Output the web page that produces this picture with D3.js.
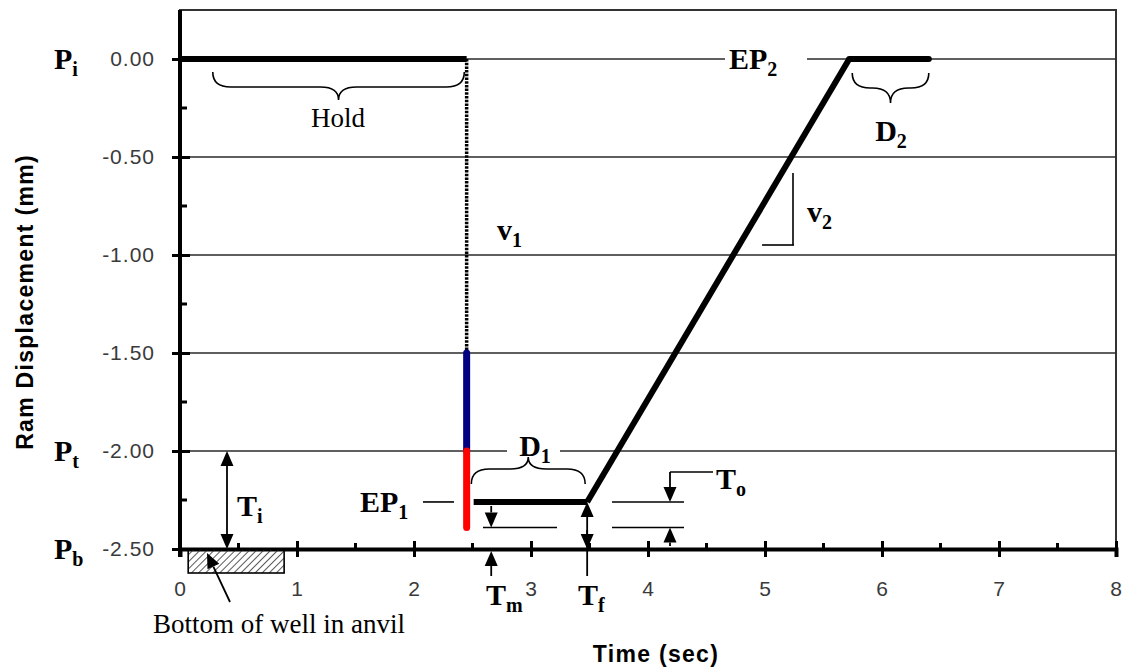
<!DOCTYPE html>
<html>
<head>
<meta charset="utf-8">
<script src="https://cdn.jsdelivr.net/npm/d3@7"></script>
<style>
  body { margin: 0; background: #fff; }
  svg { display: block; }
  .tick text { font-family: "Liberation Sans", Arial, sans-serif; font-size: 21px; fill: #3a3a3a; letter-spacing: 1px; }
  .lab { font-family: "Liberation Serif", "Times New Roman", serif; font-weight: bold; font-size: 30px; fill: #000; }
  .note { font-family: "Liberation Serif", "Times New Roman", serif; font-size: 27px; fill: #000; }
  .title { font-family: "Liberation Sans", Arial, sans-serif; font-weight: bold; font-size: 23px; fill: #000; letter-spacing: 1.3px; }
</style>
</head>
<body>
<svg id="chart" width="1131" height="670"></svg>
<script>
// Ram displacement (mm) against time (s) for one press cycle

const xTicks = [0, 1, 2, 3, 4, 5, 6, 7, 8];
const xMinorTicks = [0.5, 1.5, 2.5, 3.5, 4.5, 5.5, 6.5, 7.5];
const yTicks = [0, -0.5, -1.0, -1.5, -2.0, -2.5];
const yTickLabels = ["0.00", "-0.50", "-1.00", "-1.50", "-2.00", "-2.50"];
const yMinorTicks = [-0.25, -0.75, -1.25, -1.75, -2.25];
const gridLevels = [0, -0.5, -1.0, -1.5, -2.0];

// Cycle segments as [time, displacement]
const holdSeg = [[0, 0], [2.45, 0]];
const dropFast = [[2.45, 0], [2.45, -1.5]];
const dropBlue = [[2.45, -1.5], [2.45, -2.0]];
const dropRed = [[2.45, -2.0], [2.45, -2.39]];
const dwell1 = [[2.51, -2.26], [3.48, -2.26]];
const ramp = [[3.48, -2.26], [5.72, 0]];
const dwell2 = [[5.72, 0], [6.40, 0]];

// Characteristic levels and times
const levelPi = 0, levelPt = -2.0, levelPb = -2.5;
const levelEP1 = -2.26, levelMin = -2.39;
const tEnd1 = 3.48, tEP2 = 5.72, tEnd2 = 6.40;

const svg = d3.select("#chart");
const x = d3.scaleLinear().domain([0, 8]).range([180, 1116]);
const y = d3.scaleLinear().domain([-2.5, 0.25]).range([549, 10]);
const line = d3.line().x(d => x(d[0])).y(d => y(d[1]));

// hatch fill for the well bottom
const defs = svg.append("defs");
const pat = defs.append("pattern").attr("id", "hatch").attr("patternUnits", "userSpaceOnUse")
  .attr("width", 5).attr("height", 5).attr("patternTransform", "rotate(45)");
pat.append("line").attr("x1", 0).attr("y1", 0).attr("x2", 0).attr("y2", 5)
  .attr("stroke", "#222").attr("stroke-width", 1.5);

// plot frame
svg.append("rect").attr("x", x(0)).attr("y", y(0.25))
  .attr("width", x(8) - x(0)).attr("height", y(-2.5) - y(0.25))
  .attr("fill", "none").attr("stroke", "#333").attr("stroke-width", 2);

// horizontal grid
svg.append("g").selectAll("line").data(gridLevels).join("line")
  .attr("x1", x(0)).attr("x2", x(8)).attr("y1", d => y(d)).attr("y2", d => y(d))
  .attr("stroke", "#2a2a2a").attr("stroke-width", 1.7);

// white gaps behind labels sitting on grid lines
svg.append("rect").attr("x", 725).attr("y", 44).attr("width", 82).attr("height", 32).attr("fill", "#fff");
svg.append("rect").attr("x", 507).attr("y", 436).attr("width", 53).attr("height", 28).attr("fill", "#fff");

// axes
const xAxis = svg.append("g").attr("transform", `translate(0,${y(-2.5)})`)
  .call(d3.axisBottom(x).tickValues(xTicks).tickFormat(d3.format("d")).tickSize(8).tickPadding(24));
xAxis.select(".domain").attr("stroke", "#000").attr("stroke-width", 4);
xAxis.selectAll(".tick line").attr("y1", -8).attr("y2", 8).attr("stroke", "#000").attr("stroke-width", 3);
xAxis.selectAll(".tick text").attr("dy", "0.71em");

svg.append("g").selectAll("line").data(xMinorTicks).join("line")
  .attr("x1", d => x(d)).attr("x2", d => x(d)).attr("y1", y(-2.5)).attr("y2", y(-2.5) - 6)
  .attr("stroke", "#000").attr("stroke-width", 3);

const yAxis = svg.append("g").attr("transform", `translate(${x(0)},0)`)
  .call(d3.axisLeft(y).tickValues(yTicks).tickFormat((d, i) => yTickLabels[i]).tickSize(8).tickPadding(17));
yAxis.select(".domain").attr("stroke", "#000").attr("stroke-width", 4).attr("d", `M0,${y(0.25)}V${y(-2.5) + 8}`);
yAxis.selectAll(".tick line").attr("x1", -8).attr("x2", 10).attr("stroke", "#000").attr("stroke-width", 3);

svg.append("g").selectAll("line").data(yMinorTicks).join("line")
  .attr("x1", x(0)).attr("x2", x(0) + 7).attr("y1", d => y(d)).attr("y2", d => y(d))
  .attr("stroke", "#000").attr("stroke-width", 3);

// axis titles
svg.append("text").attr("class", "title").attr("text-anchor", "middle")
  .attr("x", 656).attr("y", 662).text("Time (sec)");
svg.append("text").attr("class", "title").attr("text-anchor", "middle")
  .attr("transform", "translate(33,302) rotate(-90)").text("Ram Displacement (mm)");

// cycle trace
const seg = (data, color, width, extra) => {
  const p = svg.append("path").datum(data).attr("d", line).attr("fill", "none")
    .attr("stroke", color).attr("stroke-width", width);
  if (extra) extra(p);
  return p;
};
seg(holdSeg, "#000", 6);
seg(dropFast, "#000", 3.5, p => p.attr("stroke-dasharray", "2.5,1.2"));
seg(dropBlue, "#000080", 7, p => p.attr("stroke-linecap", "round"));
seg(dropRed, "#ff0000", 7, p => p.attr("stroke-linecap", "round"));
seg(dwell1, "#000", 6);
seg(ramp, "#000", 6, p => p.attr("stroke-linejoin", "round"));
seg(dwell2, "#000", 6, p => p.attr("stroke-linecap", "round"));

// annotation helpers
const ann = svg.append("g");
function label(main, sub, px, py, anchor) {
  const t = ann.append("text").attr("class", "lab").attr("x", px).attr("y", py)
    .attr("text-anchor", anchor || "start");
  t.append("tspan").text(main);
  t.append("tspan").attr("dy", 7).attr("font-size", 20).text(sub);
  return t;
}
function seg2(x1, y1, x2, y2, w) {
  ann.append("line").attr("x1", x1).attr("y1", y1).attr("x2", x2).attr("y2", y2)
    .attr("stroke", "#000").attr("stroke-width", w || 1.6);
}
function arrow(x1, y1, x2, y2) {
  const len = Math.hypot(x2 - x1, y2 - y1), ux = (x2 - x1) / len, uy = (y2 - y1) / len;
  const hl = 15, hw = 6.5;
  const bx = x2 - ux * hl, by = y2 - uy * hl;
  seg2(x1, y1, bx, by, 1.8);
  ann.append("path")
    .attr("d", `M${x2},${y2}L${bx - uy * hw},${by + ux * hw}L${bx + uy * hw},${by - ux * hw}Z`)
    .attr("fill", "#000");
}
function brace(x1, x2, yEnd, yBody, yTip) {
  const xm = (x1 + x2) / 2, r = Math.min(18, (x2 - x1) / 4);
  const d = `M${x1},${yEnd}Q${x1},${yBody} ${x1 + r},${yBody}L${xm - r},${yBody}` +
    `Q${xm},${yBody} ${xm},${yTip}Q${xm},${yBody} ${xm + r},${yBody}L${x2 - r},${yBody}Q${x2},${yBody} ${x2},${yEnd}`;
  ann.append("path").attr("d", d).attr("fill", "none").attr("stroke", "#000").attr("stroke-width", 1.6);
}

// level labels on the left
label("P", "i", 54, y(levelPi) + 10);
label("P", "t", 54, y(levelPt) + 10);
label("P", "b", 54, y(levelPb) + 10);

// Hold brace
brace(x(0.28), x(2.43), y(0) + 13, y(0) + 28, y(0) + 41);
ann.append("text").attr("class", "note").attr("text-anchor", "middle")
  .attr("x", x(1.35)).attr("y", y(0) + 68).text("Hold");

// v1, v2
label("v", "1", 497, 240);
label("v", "2", 807, 222);
seg2(793, 173, 793, 245);
seg2(762, 245, 794, 245);

// EP2 and D2
label("EP", "2", 729, y(0) + 10);
brace(x(tEP2) + 3, x(tEnd2), y(0) + 14, y(0) + 29, y(0) + 44);
label("D", "2", x((tEP2 + tEnd2) / 2) + 2, y(0) + 82, "middle");

// D1
label("D", "1", 535, y(levelPt) + 5, "middle");
brace(x(2.49), x(tEnd1) - 2, y(levelPt) + 33, y(levelPt) + 18, y(levelPt) + 6);

// EP1
label("EP", "1", 360, y(levelEP1) + 10);
seg2(423, y(levelEP1), 454, y(levelEP1));

// Ti
arrow(227, 500, 227, y(levelPt));
arrow(227, 500, 227, y(levelPb));
label("T", "i", 237, 516);

// Tm
seg2(483, y(levelMin), 557, y(levelMin));
arrow(x(2.66), y(levelEP1) + 4, x(2.66), y(levelMin));
arrow(x(2.66), 576, x(2.66), y(levelPb) + 2);
label("T", "m", 486, 605);

// Tf
seg2(x(tEnd1), 530, x(tEnd1), 576, 1.8);
arrow(x(tEnd1), 526, x(tEnd1), y(levelEP1));
arrow(x(tEnd1), 526, x(tEnd1), y(levelPb));
label("T", "f", 578, 605);

// To
seg2(612, y(levelEP1), 684, y(levelEP1));
seg2(612, y(levelMin), 684, y(levelMin));
seg2(670, 472, 713, 472);
arrow(670, 472, 670, y(levelEP1));
arrow(670, 546, 670, y(levelMin));
label("T", "o", 716, 489);

// bottom of well
ann.append("rect").attr("x", x(0.07)).attr("y", y(levelPb)).attr("width", x(0.89) - x(0.07)).attr("height", 24)
  .attr("fill", "url(#hatch)").attr("stroke", "#000").attr("stroke-width", 1.6);
arrow(230, 602, 207, 553);
ann.append("text").attr("class", "note").attr("font-size", 28).attr("x", 153).attr("y", 633)
  .text("Bottom of well in anvil");
</script>
</body>
</html>
